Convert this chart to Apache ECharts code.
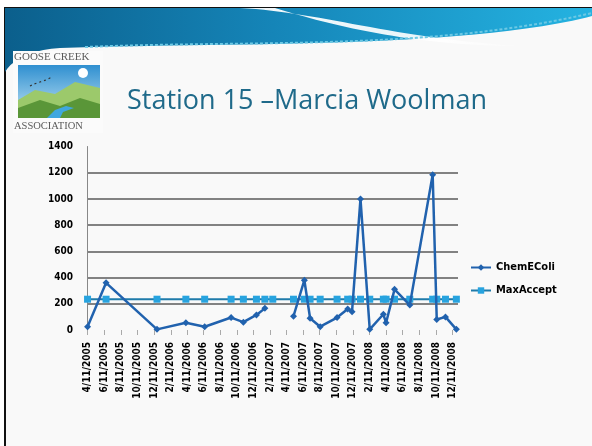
<!DOCTYPE html>
<html>
<head>
<meta charset="utf-8">
<script src="https://cdn.jsdelivr.net/npm/echarts@6/dist/echarts.min.js"></script>
<style>
  html, body { margin: 0; padding: 0; background: #fff; }
  #main { width: 592px; height: 446px; }
</style>
</head>
<body>
<div id="main"></div>
<script>
var sampleDates = [
  '2005-04-11', '2005-06-18', '2005-12-22', '2006-04-07', '2006-06-15',
  '2006-09-20', '2006-11-04', '2006-12-22', '2007-01-22', '2007-02-20',
  '2007-05-07', '2007-06-16', '2007-07-07', '2007-08-13', '2007-10-14',
  '2007-11-22', '2007-12-08', '2008-01-08', '2008-02-11', '2008-04-01',
  '2008-04-11', '2008-05-12', '2008-07-07', '2008-09-29', '2008-10-14',
  '2008-11-15', '2008-12-25'
]
var chemEColi = [
  25, 360, 5, 55, 25,
  95, 60, 115, 165, null,
  105, 380, 90, 25, 95,
  160, 140, 1000, 5, 120,
  55, 310, 190, 1185, 80,
  100, 5
]
var maxAccept = [
  235, 235, 235, 235, 235, 235, 235, 235, 235, 235,
  235, 235, 235, 235, 235, 235, 235, 235, 235, 235,
  235, 235, 235, 235, 235, 235, 235
]
var tickLabels = [
  '4/11/2005', '6/11/2005', '8/11/2005', '10/11/2005', '12/11/2005',
  '2/11/2006', '4/11/2006', '6/11/2006', '8/11/2006', '10/11/2006', '12/11/2006',
  '2/11/2007', '4/11/2007', '6/11/2007', '8/11/2007', '10/11/2007', '12/11/2007',
  '2/11/2008', '4/11/2008', '6/11/2008', '8/11/2008', '10/11/2008', '12/11/2008'
]
var seriesNames = ['ChemEColi', 'MaxAccept']

function isoTs(s) {
  var p = s.split('-').map(Number)
  return Date.UTC(p[0], p[1] - 1, p[2])
}
function usTs(s) {
  var p = s.split('/').map(Number)
  return Date.UTC(p[2], p[0] - 1, p[1])
}
var tickTs = tickLabels.map(usTs)
var labelMap = {}
tickTs.forEach(function (t, i) { labelMap[t] = tickLabels[i] })

// sample a cubic bezier into points (slide decoration only)
function bez(p0, p1, p2, p3, n) {
  var pts = []
  for (var i = 0; i <= n; i++) {
    var t = i / n, u = 1 - t
    pts.push([
      u * u * u * p0[0] + 3 * u * u * t * p1[0] + 3 * u * t * t * p2[0] + t * t * t * p3[0],
      u * u * u * p0[1] + 3 * u * u * t * p1[1] + 3 * u * t * t * p2[1] + t * t * t * p3[1]
    ])
  }
  return pts
}

var bannerPts = [[5, 8], [600, 8], [600, 14]]
  .concat(bez([600, 14], [470, 50], [220, 42], [60, 48], 30))
  .concat(bez([60, 48], [30, 50], [12, 60], [5, 72], 10))
var swooshPts = bez([240, 8], [320, 12], [390, 38], [520, 46], 30)
  .concat(bez([520, 46], [420, 46], [340, 28], [275, 8], 30))
var sparklePts = bez([85, 47], [250, 40], [430, 51], [592, 13], 40)

var labelFont = '"DejaVu Sans Condensed", "DejaVu Sans", sans-serif'

var myChart = echarts.init(document.getElementById('main'))
var option = {
  animation: false,
  backgroundColor: '#ffffff',
  title: {
    text: 'Station 15 \u2013Marcia Woolman',
    left: 122,
    top: 83,
    textStyle: {
      fontFamily: '"Open Sans", "Noto Sans", sans-serif',
      fontSize: 27,
      fontWeight: 'normal',
      color: '#1f6a8a'
    }
  },
  graphic: [
    // slide body + frame
    { type: 'rect', z: -20, shape: { x: 5, y: 8, width: 600, height: 460 },
      style: { fill: '#f9f9f9', stroke: '#111', lineWidth: 2 } },
    // top banner
    { type: 'polygon', z: -19, shape: { points: bannerPts },
      style: { fill: { type: 'linear', x: 0, y: 0, x2: 1, y2: 0, colorStops: [
        { offset: 0, color: '#0b5f8c' }, { offset: 0.45, color: '#1585b8' }, { offset: 1, color: '#25b4e2' }
      ] } } },
    { type: 'polygon', z: -18, shape: { points: swooshPts },
      style: { fill: { type: 'linear', x: 0, y: 0, x2: 1, y2: 0, colorStops: [
        { offset: 0, color: 'rgba(255,255,255,0.95)' }, { offset: 0.7, color: 'rgba(255,255,255,0.9)' },
        { offset: 1, color: 'rgba(255,255,255,0.2)' }
      ] } } },
    { type: 'polyline', z: -17, shape: { points: sparklePts },
      style: { stroke: '#6cc8e4', lineWidth: 2, lineDash: [3, 2], fill: null } },
    // logo (above banner)
    { type: 'rect', z: -12, shape: { x: 13, y: 51, width: 90, height: 82 }, style: { fill: '#fbfbfb' } },
    { type: 'text', z: -10, left: 14, top: 52,
      style: { text: 'GOOSE CREEK', font: '11px "Liberation Serif", serif', fill: '#5a5a5a' } },
    { type: 'rect', z: -11, shape: { x: 18, y: 65, width: 82, height: 53 },
      style: { fill: { type: 'linear', x: 0, y: 0, x2: 0, y2: 1, colorStops: [
        { offset: 0, color: '#2f8fd0' }, { offset: 1, color: '#c4e6f6' }
      ] } } },
    { type: 'circle', z: -10, shape: { cx: 83, cy: 73, r: 5 }, style: { fill: '#ffffff' } },
    { type: 'polygon', z: -10,
      shape: { points: [[18, 100], [35, 90], [55, 94], [75, 82], [100, 88], [100, 118], [18, 118]] },
      style: { fill: '#9cc96b' } },
    { type: 'polygon', z: -9,
      shape: { points: [[18, 108], [40, 100], [60, 106], [80, 98], [100, 104], [100, 118], [18, 118]] },
      style: { fill: '#5a9638' } },
    { type: 'polygon', z: -8,
      shape: { points: [[47, 118], [55, 110], [66, 106], [74, 108], [63, 112], [60, 118]] },
      style: { fill: '#3fa7df' } },
    { type: 'polyline', z: -8,
      shape: { points: [[30, 86], [34, 84], [40, 82], [46, 80], [52, 77]] },
      style: { stroke: '#333', lineWidth: 1.2, lineDash: [2, 3], fill: null } },
    { type: 'text', z: -10, left: 14, top: 121,
      style: { text: 'ASSOCIATION', font: '10.5px "Liberation Serif", serif', fill: '#5a5a5a' } }
  ],
  legend: {
    data: seriesNames,
    orient: 'vertical',
    left: 465,
    top: 257,
    itemWidth: 20,
    itemHeight: 8,
    itemGap: 12,
    textStyle: { fontFamily: labelFont, fontWeight: 'bold', fontSize: 11, color: '#000' }
  },
  grid: {
    left: 87,
    right: 134,
    top: 146.5,
    bottom: 116,
    outerBoundsMode: 'none'
  },
  xAxis: {
    type: 'value',
    min: isoTs('2005-04-09'),
    max: isoTs('2008-12-31'),
    axisLine: { show: false },
    axisTick: { show: true, customValues: tickTs, length: 5, lineStyle: { color: '#aaa' } },
    axisLabel: {
      customValues: tickTs,
      rotate: 90,
      margin: 12,
      formatter: function (v) { return labelMap[v] || '' },
      fontFamily: labelFont,
      fontWeight: 'bold',
      fontSize: 10,
      color: '#000'
    },
    splitLine: { show: false }
  },
  yAxis: {
    type: 'value',
    min: 0,
    max: 1400,
    interval: 200,
    axisLine: { show: true, lineStyle: { color: '#888' } },
    axisTick: { show: false },
    axisLabel: {
      margin: 14,
      formatter: function (v) { return String(v) },
      fontFamily: labelFont, fontWeight: 'bold', fontSize: 10, color: '#000'
    },
    splitLine: { show: true, showMinLine: false, showMaxLine: false, lineStyle: { color: '#5a5a5a', width: 1.5 } }
  },
  series: [
    {
      name: 'ChemEColi',
      type: 'line',
      z: 4,
      data: sampleDates.map(function (d, i) { return [isoTs(d), chemEColi[i] == null ? '-' : chemEColi[i]] }),
      symbol: 'diamond',
      symbolSize: 7,
      showAllSymbol: true,
      connectNulls: false,
      lineStyle: { color: '#2162ae', width: 2.5 },
      itemStyle: { color: '#2162ae' }
    },
    {
      name: 'MaxAccept',
      type: 'line',
      z: 3,
      data: sampleDates.map(function (d, i) { return [isoTs(d), maxAccept[i]] }),
      symbol: 'rect',
      symbolSize: 7,
      showAllSymbol: true,
      lineStyle: { color: '#1f7baa', width: 2 },
      itemStyle: { color: '#27a3df' }
    }
  ]
}
myChart.setOption(option)
</script>
</body>
</html>
